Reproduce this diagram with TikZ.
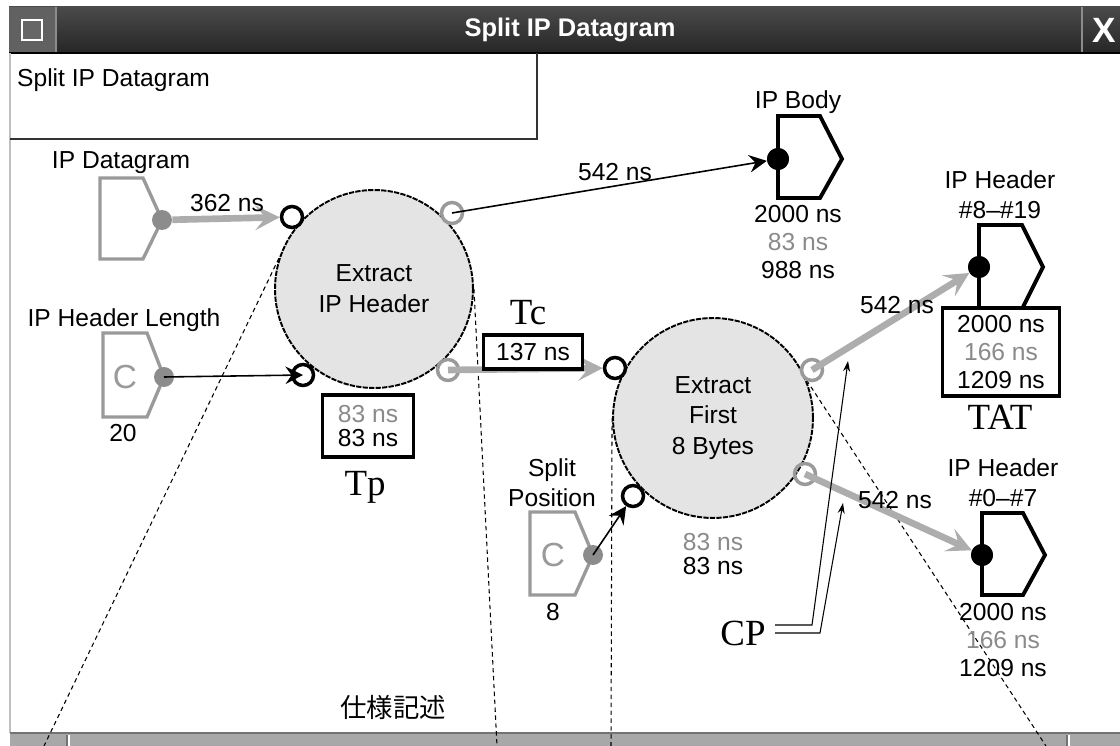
\documentclass[tikz,border=0pt]{standalone}
\usepackage{fontspec}
\setmainfont{Liberation Serif}
\setsansfont{Liberation Sans}
\newfontfamily\jpfont{Noto Sans CJK JP}
\usetikzlibrary{arrows.meta}
\definecolor{port-gray}{HTML}{9A9A9A}
\definecolor{flow-gray}{HTML}{ADADAD}
\definecolor{dot-gray}{HTML}{8C8C8C}
\definecolor{proc-fill}{HTML}{E4E4E4}
\definecolor{note-gray}{HTML}{8A8A8A}
\definecolor{bar-top}{HTML}{4A4A4A}
\definecolor{bar-bottom}{HTML}{262626}
\definecolor{bar-gray}{HTML}{A8A8A8}
\newcommand{\guifont}{\sffamily\fontsize{14}{15.8}\selectfont}
\newcommand{\tightfont}{\sffamily\fontsize{14}{13.4}\selectfont}

\begin{document}
\begin{tikzpicture}[x=0.02cm, y=-0.02cm,
      every node/.style={font=\guifont},
      proc/.style={circle, draw, dash pattern=on 3pt off 0.7pt, line width=1.1pt,
                   fill=proc-fill, minimum size=3.96cm, inner sep=0pt, align=center,
                   font=\sffamily\fontsize{14}{17.5}\selectfont},
      inport/.style={circle, draw=black, line width=2pt, minimum size=0.42cm, inner sep=0pt},
      outport/.style={inport, draw=port-gray},
      srcdot/.style={circle, fill=dot-gray, minimum size=0.4cm, inner sep=0pt},
      sinkdot/.style={circle, fill=black, minimum size=0.44cm, inner sep=0pt},
      srcshape/.style={draw=port-gray, line width=1.9pt, line join=miter},
      sinkshape/.style={draw=black, line width=2.2pt, line join=miter},
      flow/.style={draw=flow-gray, line width=3.8pt,
                   -{Stealth[length=14pt, width=14pt, inset=6pt]}},
      wire/.style={draw=black, line width=0.9pt,
                   -{Stealth[length=10pt, width=10pt, inset=3.5pt]}},
      tagbox/.style={draw=black, line width=2.2pt, fill=white, inner sep=0pt, align=center},
      remark/.style={font=\rmfamily\fontsize{21}{24}\selectfont, inner sep=0pt, anchor=base},
      zoomline/.style={dash pattern=on 2.5pt off 2pt, line width=0.6pt},
      cpline/.style={line width=0.6pt, -{Stealth[length=6pt, width=4pt]}}]
    \useasboundingbox (0,0) rectangle (1120,746);

    % window frame
    \shade[top color=bar-top, bottom color=bar-bottom] (9,7) rectangle (1120,53);
    \fill[black!62] (9,7) rectangle (55,53);
    \draw[black!45, line width=0.8pt] (56,7) -- (56,53);
    \draw[white, line width=1.6pt, fill=black!60] (22,20) rectangle (42,40);
    \draw[black!45, line width=0.8pt] (1082,7) -- (1082,53);
    \draw[black, line width=1pt] (9,53) -- (1120,53);
    \node[text=white, font=\sffamily\bfseries\fontsize{14.5}{16}\selectfont] (wtitle) at (570,30) {Split IP Datagram};
    \node[text=white, font=\sffamily\bfseries\fontsize{20}{20}\selectfont] (wclose) at (1104,30) {X};
    \draw[black!25, line width=1pt] (10,53) -- (10,733);
    \draw[black!80, line width=1pt] (10,139) -- (537,139) -- (537,53);
    \node[anchor=west] (sheet) at (11,80) {Split IP Datagram};
    \fill[bar-gray] (10,734) rectangle (1120,746);
    \draw[black!55, line width=0.8pt] (10,733) -- (1120,733);
    \draw[black!55, line width=0.8pt] (67,735) -- (67,746);
    \draw[white, line width=0.8pt] (69,735) -- (69,746);
    \draw[black!55, line width=0.8pt] (1067,735) -- (1067,746);
    \draw[white, line width=0.8pt] (1069,735) -- (1069,746);

    % processes
    \node[proc] (c1) at (374,289) {Extract\\IP Header};
    \node[proc, minimum size=4cm] (c2) at (713,418) {Extract\\First\\8 Bytes};

    % zoom lines to the lower sheet
    \coordinate (z1) at (44,746);
    \coordinate (z2) at (497,746);
    \coordinate (z3) at (611,746);
    \coordinate (z4) at (1046,746);
    \draw[zoomline] (c1.162) -- (z1);
    \draw[zoomline] (c1.east) -- (z2);
    \draw[zoomline] (c2.west) -- (z3);
    \draw[zoomline] (c2.22) -- (z4);

    % inputs
    \draw[srcshape] (100,178) -- (143,178) -- (162,220) -- (143,259) -- (100,259) -- cycle;
    \draw[srcshape] (103,333) -- (147,333) -- (164,377) -- (147,417) -- (103,417) -- cycle;
    \draw[srcshape] (530,512) -- (575,512) -- (593,555) -- (575,595) -- (530,595) -- cycle;
    \node (dgramlbl) at (121,163) {IP Datagram};
    \node (hlenlbl) at (124,320) {IP Header Length};
    \node[text=port-gray, font=\sffamily\fontsize{19}{19}\selectfont] (hlenc) at (125,377) {C};
    \node (hlenval) at (123,433) {20};
    \node[align=center, font=\sffamily\fontsize{14}{17}\selectfont] (splitlbl) at (552,483) {Split\\Position};
    \node[text=port-gray, font=\sffamily\fontsize{19}{19}\selectfont] (splitc) at (553,555) {C};
    \node (splitval) at (553,612) {8};

    % outputs
    \draw[sinkshape] (778,116) -- (820,116) -- (842,159) -- (820,198) -- (778,198) -- cycle;
    \draw[sinkshape] (979,225) -- (1022,225) -- (1043,267) -- (1022,309) -- (979,309) -- cycle;
    \draw[sinkshape] (982,513) -- (1023,513) -- (1045,555) -- (1023,595) -- (982,595) -- cycle;
    \node (bodylbl) at (798,102) {IP Body};
    \node[align=center] (bodyval) at (798,242) {2000 ns\\\textcolor{note-gray}{83 ns}\\988 ns};
    \node[align=center, font=\sffamily\fontsize{14}{17}\selectfont] (hilbl) at (1000,195) {IP Header\\\#8–\#19};
    \node[align=center, font=\sffamily\fontsize{14}{17}\selectfont] (lolbl) at (1003,483) {IP Header\\\#0–\#7};
    \node[align=center] (loval) at (1003,640) {2000 ns\\\textcolor{note-gray}{166 ns}\\1209 ns};

    % ports
    \node[inport] (c1in1) at (292,217) {};
    \node[inport] (c1in2) at (303,375) {};
    \node[outport] (c1out1) at (452,213) {};
    \node[outport] (c1out2) at (448,370) {};
    \node[inport] (c2in1) at (615,368) {};
    \node[inport] (c2in2) at (633,496) {};
    \node[outport] (c2out1) at (812,370) {};
    \node[outport] (c2out2) at (805,474) {};

    % source and sink dots
    \node[srcdot] (dgram) at (162,220) {};
    \node[srcdot] (hlen) at (164,377) {};
    \node[srcdot] (split) at (593,555) {};
    \node[sinkdot] (body) at (778,159) {};
    \node[sinkdot] (hdrhi) at (979,267) {};
    \node[sinkdot] (hdrlo) at (982,555) {};

    % connectors
    \draw[flow] (dgram) -- (c1in1);
    \draw[wire] (hlen.center) -- (c1in2.center);
    \draw[wire] (c1out1.center) -- (body);
    \draw[flow] (c1out2.center) -- (c2in1);
    \draw[wire] (split.center) -- (c2in2);
    \draw[flow] (c2out1.center) -- (hdrhi);
    \draw[flow] (c2out2.center) -- (hdrlo);
    \node[sinkdot] at (body) {};
    \node[sinkdot] at (hdrhi) {};
    \node[sinkdot] at (hdrlo) {};
    \node (t362) at (227,203) {362 ns};
    \node (t542a) at (615,172) {542 ns};
    \node (t542b) at (897,305) {542 ns};
    \node (t542c) at (895,500) {542 ns};
    \node[tagbox, minimum width=1.98cm, minimum height=0.68cm] (tc) at (533,352) {137 ns};

    % timing boxes
    \node[tagbox, minimum width=1.82cm, minimum height=1.24cm, font=\tightfont] (tp) at (368,426) {\textcolor{note-gray}{83 ns}\\83 ns};
    \node[align=center, font=\tightfont] (c2val) at (713,554) {\textcolor{note-gray}{83 ns}\\83 ns};
    \node[tagbox, minimum width=2.34cm, minimum height=1.76cm] (tat) at (1001,352) {2000 ns\\\textcolor{note-gray}{166 ns}\\1209 ns};

    % annotations
    \node[remark] (tclbl) at (528,325) {Tc};
    \node[remark] (tplbl) at (365,496) {Tp};
    \node[remark] (tatlbl) at (1000,430) {TAT};
    \node[remark] (cplbl) at (743,645) {CP};
    \coordinate (cpa0) at (775,625);
    \coordinate (cpa1) at (812,625);
    \coordinate (cpA) at (848,361);
    \coordinate (cpb0) at (775,633);
    \coordinate (cpb1) at (820,633);
    \coordinate (cpB) at (843,503);
    \draw[cpline] (cpa0) -- (cpa1) -- (cpA);
    \draw[cpline] (cpb0) -- (cpb1) -- (cpB);

    \node[font=\jpfont\fontsize{15}{15}\selectfont] (spec) at (393,707) {仕様記述};
  \end{tikzpicture}
\end{document}
